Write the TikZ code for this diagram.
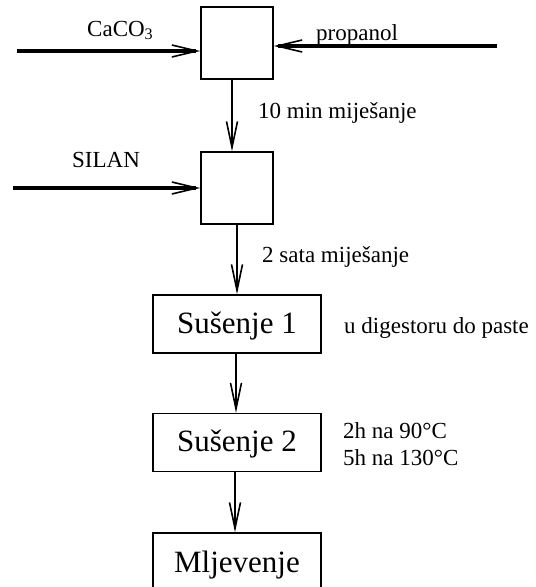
\documentclass[tikz,border=0pt]{standalone}
\usepackage{fontspec}
\setmainfont{Liberation Serif}
\usetikzlibrary{arrows.meta}
\tikzset{
  boxsq/.style={draw, line width=1.4pt, minimum width=72pt, minimum height=72pt, inner sep=0pt},
  boxst/.style={draw, line width=1.4pt, minimum width=168pt, minimum height=58pt, inner sep=0pt,
    font=\fontsize{31}{36}\selectfont, text height=24pt, text depth=6pt},
  lbl/.style={font=\fontsize{23}{27}\selectfont, inner sep=0pt, anchor=base west},
  inflow/.style={line width=3.2pt, -{Straight Barb[length=25pt, width=12pt, line width=1.6pt]}},
  downflow/.style={line width=2.4pt, -{Straight Barb[length=26pt, width=11pt, line width=1.6pt]}}
}
\begin{document}
\begin{tikzpicture}[x=1pt,y=-1pt]
\useasboundingbox (0,0) rectangle (536,587);
% boxes
\node[boxsq] (b1) at (237,43) {};
\node[boxsq] (b2) at (237,188) {};
\node[boxst] (s1) at (237,324) {Sušenje 1};
\node[boxst] (s2) at (237,442.5) {Sušenje 2};
\node[boxst, minimum height=60pt] (m) at (237,563) {Mljevenje};
% free ends
\coordinate (cA) at (17,51);
\coordinate (cP) at (497,46);
\coordinate (cS) at (13,188);
% inflows
\draw[inflow] (cA) -- (cA -| b1.west);
\draw[inflow] (cP) -- (cP -| b1.east);
\draw[inflow] (cS) -- (cS -| b2.west);
% downflows
\draw[downflow] ([xshift=-5pt]b1.south) -- ([xshift=-5pt]b1.south |- b2.north);
\draw[downflow] (b2.south) -- (b2.south |- s1.north);
\draw[downflow] ([xshift=-1pt]s1.south) -- ([xshift=-1pt]s1.south |- s2.north);
\draw[downflow] ([xshift=-2pt]s2.south) -- ([xshift=-2pt]s2.south |- m.north);
% labels
\node[lbl] (tCa) at (87,36) {CaCO\textsubscript{3}};
\node[lbl] (tPr) at (316,40) {propanol};
\node[lbl] (tSi) at (72,167) {SILAN};
\node[lbl] (t10) at (258,118) {10 min miješanje};
\node[lbl] (t2s) at (262,262) {2 sata miješanje};
\node[lbl] (tDig) at (344,333) {u digestoru do paste};
\node[lbl] (tH1) at (343,438) {2h na 90°C};
\node[lbl] (tH2) at (343,465) {5h na 130°C};
\end{tikzpicture}
\end{document}
